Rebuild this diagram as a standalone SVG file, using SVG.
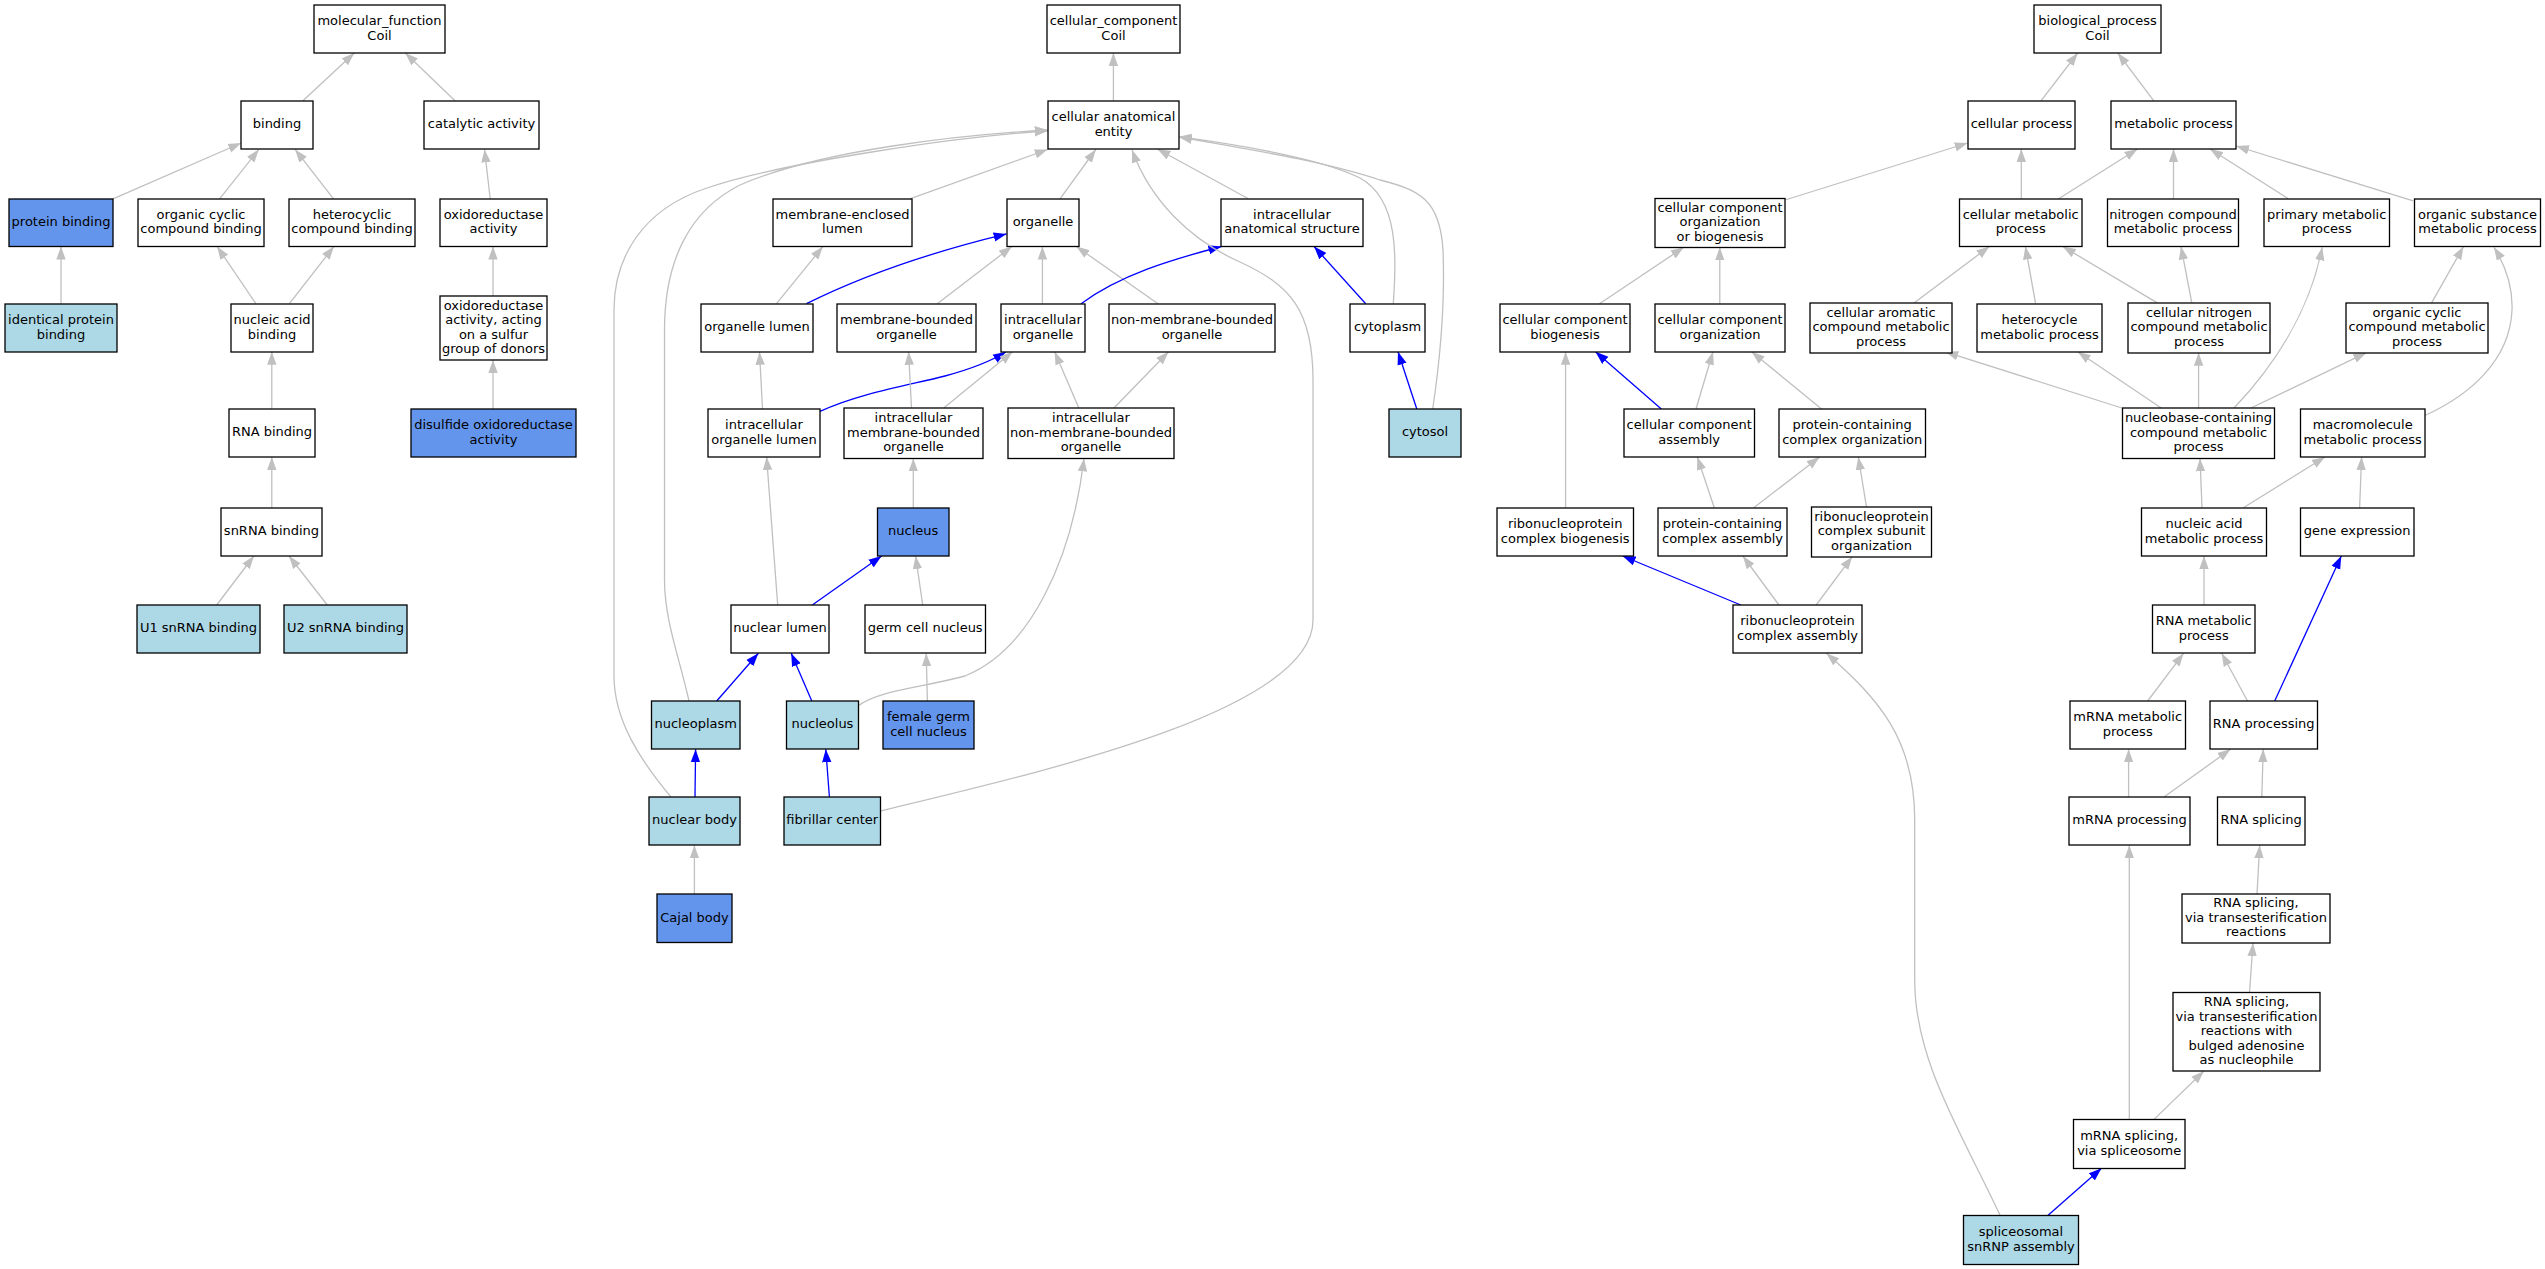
<svg xmlns="http://www.w3.org/2000/svg" width="2545" height="1269" viewBox="0 0 2545 1269">
<style>
.n rect{fill:#fff;stroke:#000;stroke-width:1.3}
.n.cb rect{fill:#6495ED}
.n.lb rect{fill:#ADD8E6}
text{font-family:"DejaVu Sans","Liberation Sans",sans-serif;font-size:13px;text-anchor:middle;fill:#000}
#edges path{fill:none;stroke:#C0C0C0;stroke-width:1.3;marker-end:url(#ag)}
#edges path.b{stroke:#0000FF;marker-end:url(#ab)}
</style>
<defs>
<marker id="ag" viewBox="0 0 13 10" refX="13" refY="5" markerWidth="13" markerHeight="10" markerUnits="userSpaceOnUse" orient="auto"><path d="M0,0.3 L13,5 L0,9.7z" fill="#C0C0C0"/></marker>
<marker id="ab" viewBox="0 0 13 10" refX="13" refY="5" markerWidth="13" markerHeight="10" markerUnits="userSpaceOnUse" orient="auto"><path d="M0,0.3 L13,5 L0,9.7z" fill="#0000FF"/></marker>
</defs>
<rect width="2545" height="1269" fill="#fff"/>
<g id="edges">
<path d="M302.9,100.8 L354.3,53"/>
<path d="M455,100.8 L405.3,53"/>
<path d="M113,198.8 L241.2,143"/>
<path d="M219.6,198.8 L258.8,149.4"/>
<path d="M333.5,198.8 L295.1,149.4"/>
<path d="M490.2,198.8 L484.5,149.4"/>
<path d="M61,303.7 L61,246.5"/>
<path d="M255.9,303.7 L217.1,246.5"/>
<path d="M289.4,303.7 L333.9,246.5"/>
<path d="M493,296 L493,246.5"/>
<path d="M271.8,409.4 L271.8,351.8"/>
<path d="M493,409.4 L493,360"/>
<path d="M271.8,507.8 L271.8,457.1"/>
<path d="M216.7,605 L253.9,556"/>
<path d="M327.3,605 L289,556"/>
<path d="M1113.4,100.8 L1113.4,53"/>
<path d="M909.8,198.8 L1047.7,149.5"/>
<path d="M1060,198.8 L1095.8,149.5"/>
<path d="M1248.4,198.8 L1157.4,149"/>
<path class="b" d="M806.5,303.7 C870,272 940,250 1006.6,233.9"/>
<path d="M776.5,303.7 L822.9,246.5"/>
<path d="M937.3,303.7 L1011.9,246.5"/>
<path d="M1042.4,303.7 L1042.4,246.5"/>
<path d="M1158,303.7 L1076.4,246.5"/>
<path class="b" d="M1081.1,303.7 C1120,275 1170,260 1221.4,246.5"/>
<path class="b" d="M1365.7,303.7 L1314.1,246.5"/>
<path d="M1393.3,303.7 C1396,260 1400,200 1360,178 C1320,158 1240,145 1178.5,136.7"/>
<path d="M1432.7,409 C1440,360 1445,300 1443,250 C1440,200 1420,190 1380,180 C1320,160 1240,148 1179,137"/>
<path class="b" d="M1416.8,409 L1398,351.8"/>
<path d="M762.5,409 L759.5,351.8"/>
<path class="b" d="M820,411.4 C860,393 910,385 945,376 C975,368 993,360 1006,351.8"/>
<path d="M911.5,408 L908.6,351.8"/>
<path d="M943.8,408 L1012.5,351.8"/>
<path d="M1078.8,408 L1054.7,351.8"/>
<path d="M1114,408 L1168.6,351.8"/>
<path d="M913.3,507.8 L913.3,458.4"/>
<path d="M777.7,605 L766.6,457"/>
<path class="b" d="M812.3,605 L881.6,556"/>
<path d="M922.7,605 L915.6,556"/>
<path d="M671,797 C640,760 614,720 614,676 L614,310 C614,260 640,210 707,188 C780,163 960,136 1047.7,131"/>
<path d="M689,701 C680,660 664.5,620 664.5,580 L664.5,330 C664.5,260 690,210 740,185 C820,150 960,135 1047.7,130"/>
<path class="b" d="M716.7,701 L758.4,653.3"/>
<path class="b" d="M811.8,701 L791.2,653.3"/>
<path d="M858.7,705.4 C880,690 920,688 965,676 C1030,650 1072,560 1084,458.4"/>
<path d="M927.4,701 L926.2,653.3"/>
<path class="b" d="M695,797 L695.6,749.3"/>
<path class="b" d="M829.4,797 L825.8,749.3"/>
<path d="M880.4,811 C1050,770 1313,710 1313,620 L1313,380 C1313,310 1290,285 1240,262 C1190,240 1150,200 1132,149.8"/>
<path d="M694.4,894.4 L694.4,845.3"/>
<path d="M2041,100.8 L2077.7,53"/>
<path d="M2153.8,100.8 L2117.8,53"/>
<path d="M1785,200 L1967.7,143"/>
<path d="M2021.3,198.8 L2021.3,149"/>
<path d="M2058.7,198.8 L2137.5,149"/>
<path d="M2173.5,198.8 L2173.5,149"/>
<path d="M2288.3,198.8 L2210.1,149"/>
<path d="M2413.2,200.8 L2236,146"/>
<path d="M1599.5,303.7 L1683.8,247.3"/>
<path d="M1719.8,303.7 L1719.8,247.3"/>
<path d="M1914,302.9 L1989.4,246.5"/>
<path d="M2035.6,303.7 L2025.4,246.5"/>
<path d="M2157.2,302.9 L2062.8,246.5"/>
<path d="M2191.8,302.9 L2181,246.5"/>
<path d="M2431.6,302.9 L2463.5,246.5"/>
<path d="M1565.6,507.8 L1565.6,351.8"/>
<path class="b" d="M1661.3,409 L1595.5,351.8"/>
<path d="M1696,409 L1713,351.8"/>
<path d="M1821.6,409 L1751.7,351.8"/>
<path d="M2121.8,408 L1945.3,351.8"/>
<path d="M2161.2,408 L2077.7,351.8"/>
<path d="M2198.6,408 L2198.6,352.7"/>
<path d="M2234,408 C2275,365 2310,310 2322.2,247.3"/>
<path d="M2250.9,408 L2366.4,352.7"/>
<path d="M2424.8,415.5 C2470,395 2510,360 2512,310 C2513,285 2505,265 2494,247.3"/>
<path d="M2202,507.8 L2200,458.4"/>
<path d="M2243.4,507.8 L2325,457"/>
<path d="M2359.6,507.8 L2361.6,457"/>
<path d="M1714.3,507.8 L1697.3,457"/>
<path d="M1753.7,507.8 L1819.6,457"/>
<path d="M1866.5,507 L1858.3,457"/>
<path class="b" d="M1740.8,605 L1622.6,556"/>
<path d="M1778.9,605 L1742.9,556"/>
<path d="M1816.2,605 L1852.2,556.7"/>
<path d="M2204,605 L2204,556"/>
<path class="b" d="M2274.7,701 L2341.3,556"/>
<path d="M2147.7,701 L2183.6,653.3"/>
<path d="M2247.5,701 L2221.7,653.3"/>
<path d="M2128.6,797 L2128.6,749.3"/>
<path d="M2164,797 L2230.5,749.3"/>
<path d="M2261.8,797 L2263.2,749.3"/>
<path d="M2257,894 L2259.7,845.3"/>
<path d="M2249.5,992.5 L2253,943"/>
<path d="M2129.3,1119.6 L2129.3,845.3"/>
<path d="M2153.8,1119.6 L2204,1071"/>
<path class="b" d="M2047.8,1215.6 L2101.5,1168.3"/>
<path d="M2000.3,1215.6 C1960,1130 1914.7,1060 1914.7,980 L1914.7,820 C1914.7,740 1880,700 1826.4,653.3"/>
</g>
<!-- molecular function -->
<g id="mf_root" class="n"><rect x="314" y="5" width="131" height="48"/><text><tspan x="379.5" y="25">molecular_function</tspan><tspan x="379.5" y="39.5">Coil</tspan></text></g>
<g id="binding" class="n"><rect x="241" y="101" width="72" height="48"/><text x="277" y="128.2">binding</text></g>
<g id="catalytic_activity" class="n"><rect x="424" y="101" width="115" height="48"/><text x="481.5" y="128.2">catalytic activity</text></g>
<g id="protein_binding" class="n cb"><rect x="9" y="199" width="104" height="47.5"/><text x="61" y="226">protein binding</text></g>
<g id="organic_cyclic_compound_binding" class="n"><rect x="138" y="199" width="126" height="47.5"/><text><tspan x="201" y="218.7">organic cyclic</tspan><tspan x="201" y="233.2">compound binding</tspan></text></g>
<g id="heterocyclic_compound_binding" class="n"><rect x="289" y="199" width="126" height="47.5"/><text><tspan x="352" y="218.7">heterocyclic</tspan><tspan x="352" y="233.2">compound binding</tspan></text></g>
<g id="oxidoreductase_activity" class="n"><rect x="440" y="199" width="107" height="47.5"/><text><tspan x="493.5" y="218.7">oxidoreductase</tspan><tspan x="493.5" y="233.2">activity</tspan></text></g>
<g id="identical_protein_binding" class="n lb"><rect x="5" y="304" width="112" height="48"/><text><tspan x="61" y="324">identical protein</tspan><tspan x="61" y="338.5">binding</tspan></text></g>
<g id="nucleic_acid_binding" class="n"><rect x="231" y="304" width="82" height="48"/><text><tspan x="272" y="324">nucleic acid</tspan><tspan x="272" y="338.5">binding</tspan></text></g>
<g id="oxidoreductase_sulfur" class="n"><rect x="440" y="296" width="107" height="64"/><text><tspan x="493.5" y="309.5">oxidoreductase</tspan><tspan x="493.5" y="324">activity, acting</tspan><tspan x="493.5" y="338.5">on a sulfur</tspan><tspan x="493.5" y="353">group of donors</tspan></text></g>
<g id="rna_binding" class="n"><rect x="229" y="409" width="86" height="48"/><text x="272" y="436.2">RNA binding</text></g>
<g id="disulfide_oxidoreductase_activity" class="n cb"><rect x="411" y="409" width="165" height="48"/><text><tspan x="493.5" y="429">disulfide oxidoreductase</tspan><tspan x="493.5" y="443.5">activity</tspan></text></g>
<g id="snrna_binding" class="n"><rect x="221" y="508" width="101" height="48"/><text x="271.5" y="535.2">snRNA binding</text></g>
<g id="u1_snrna_binding" class="n lb"><rect x="137" y="605" width="123" height="48"/><text x="198.5" y="632.2">U1 snRNA binding</text></g>
<g id="u2_snrna_binding" class="n lb"><rect x="284" y="605" width="123" height="48"/><text x="345.5" y="632.2">U2 snRNA binding</text></g>
<!-- cellular component -->
<g id="cc_root" class="n"><rect x="1047" y="5" width="133" height="48"/><text><tspan x="1113.5" y="25">cellular_component</tspan><tspan x="1113.5" y="39.5">Coil</tspan></text></g>
<g id="cellular_anatomical_entity" class="n"><rect x="1048" y="101" width="131" height="48"/><text><tspan x="1113.5" y="121">cellular anatomical</tspan><tspan x="1113.5" y="135.5">entity</tspan></text></g>
<g id="membrane_enclosed_lumen" class="n"><rect x="773" y="199" width="139" height="47.5"/><text><tspan x="842.5" y="218.7">membrane-enclosed</tspan><tspan x="842.5" y="233.2">lumen</tspan></text></g>
<g id="organelle" class="n"><rect x="1007" y="199" width="72" height="47.5"/><text x="1043" y="226">organelle</text></g>
<g id="intracellular_anatomical_structure" class="n"><rect x="1221" y="199" width="142" height="47.5"/><text><tspan x="1292" y="218.7">intracellular</tspan><tspan x="1292" y="233.2">anatomical structure</tspan></text></g>
<g id="organelle_lumen" class="n"><rect x="701" y="304" width="112" height="48"/><text x="757" y="331.2">organelle lumen</text></g>
<g id="membrane_bounded_organelle" class="n"><rect x="837" y="304" width="139" height="48"/><text><tspan x="906.5" y="324">membrane-bounded</tspan><tspan x="906.5" y="338.5">organelle</tspan></text></g>
<g id="intracellular_organelle" class="n"><rect x="1001" y="304" width="84" height="48"/><text><tspan x="1043" y="324">intracellular</tspan><tspan x="1043" y="338.5">organelle</tspan></text></g>
<g id="non_membrane_bounded_organelle" class="n"><rect x="1109" y="304" width="166" height="48"/><text><tspan x="1192" y="324">non-membrane-bounded</tspan><tspan x="1192" y="338.5">organelle</tspan></text></g>
<g id="cytoplasm" class="n"><rect x="1350" y="304" width="75" height="48"/><text x="1387.5" y="331.2">cytoplasm</text></g>
<g id="intracellular_organelle_lumen" class="n"><rect x="708" y="409" width="112" height="48"/><text><tspan x="764" y="429">intracellular</tspan><tspan x="764" y="443.5">organelle lumen</tspan></text></g>
<g id="intracellular_membrane_bounded_organelle" class="n"><rect x="844" y="408" width="139" height="50.5"/><text><tspan x="913.5" y="422">intracellular</tspan><tspan x="913.5" y="436.5">membrane-bounded</tspan><tspan x="913.5" y="451">organelle</tspan></text></g>
<g id="intracellular_non_membrane_bounded_organelle" class="n"><rect x="1008" y="408" width="166" height="50.5"/><text><tspan x="1091" y="422">intracellular</tspan><tspan x="1091" y="436.5">non-membrane-bounded</tspan><tspan x="1091" y="451">organelle</tspan></text></g>
<g id="cytosol" class="n lb"><rect x="1389" y="409" width="72" height="48"/><text x="1425" y="436.2">cytosol</text></g>
<g id="nucleus" class="n cb"><rect x="877.5" y="508" width="71.5" height="48"/><text x="913.2" y="535.2">nucleus</text></g>
<g id="nuclear_lumen" class="n"><rect x="731" y="605" width="98" height="48"/><text x="780" y="632.2">nuclear lumen</text></g>
<g id="germ_cell_nucleus" class="n"><rect x="865" y="605" width="120.5" height="48"/><text x="925.2" y="632.2">germ cell nucleus</text></g>
<g id="nucleoplasm" class="n lb"><rect x="651.5" y="701" width="88.5" height="48"/><text x="695.7" y="728.2">nucleoplasm</text></g>
<g id="nucleolus" class="n lb"><rect x="786.5" y="701" width="72" height="48"/><text x="822.5" y="728.2">nucleolus</text></g>
<g id="female_germ_cell_nucleus" class="n cb"><rect x="883" y="701" width="91" height="48"/><text><tspan x="928.5" y="721">female germ</tspan><tspan x="928.5" y="735.5">cell nucleus</tspan></text></g>
<g id="nuclear_body" class="n lb"><rect x="649" y="797" width="91" height="48"/><text x="694.5" y="824.2">nuclear body</text></g>
<g id="fibrillar_center" class="n lb"><rect x="784" y="797" width="96.5" height="48"/><text x="832.2" y="824.2">fibrillar center</text></g>
<g id="cajal_body" class="n cb"><rect x="657" y="894" width="75" height="48.5"/><text x="694.5" y="921.5">Cajal body</text></g>
<!-- biological process -->
<g id="bp_root" class="n"><rect x="2034" y="5" width="127" height="48"/><text><tspan x="2097.5" y="25">biological_process</tspan><tspan x="2097.5" y="39.5">Coil</tspan></text></g>
<g id="cellular_process" class="n"><rect x="1968" y="101" width="107" height="48"/><text x="2021.5" y="128.2">cellular process</text></g>
<g id="metabolic_process" class="n"><rect x="2111" y="101" width="125" height="48"/><text x="2173.5" y="128.2">metabolic process</text></g>
<g id="cc_org_or_biogenesis" class="n"><rect x="1655" y="198.5" width="130" height="49"/><text><tspan x="1720" y="211.7">cellular component</tspan><tspan x="1720" y="226.2">organization</tspan><tspan x="1720" y="240.7">or biogenesis</tspan></text></g>
<g id="cellular_metabolic_process" class="n"><rect x="1959.5" y="199" width="122.5" height="47.5"/><text><tspan x="2020.7" y="218.7">cellular metabolic</tspan><tspan x="2020.7" y="233.2">process</tspan></text></g>
<g id="nitrogen_compound_metabolic_process" class="n"><rect x="2107.5" y="199" width="131" height="47.5"/><text><tspan x="2173" y="218.7">nitrogen compound</tspan><tspan x="2173" y="233.2">metabolic process</tspan></text></g>
<g id="primary_metabolic_process" class="n"><rect x="2264" y="199" width="125.5" height="47.5"/><text><tspan x="2326.7" y="218.7">primary metabolic</tspan><tspan x="2326.7" y="233.2">process</tspan></text></g>
<g id="organic_substance_metabolic_process" class="n"><rect x="2414.5" y="199" width="126" height="47.5"/><text><tspan x="2477.5" y="218.7">organic substance</tspan><tspan x="2477.5" y="233.2">metabolic process</tspan></text></g>
<g id="cc_biogenesis" class="n"><rect x="1500" y="304" width="130" height="48"/><text><tspan x="1565" y="324">cellular component</tspan><tspan x="1565" y="338.5">biogenesis</tspan></text></g>
<g id="cc_organization" class="n"><rect x="1655" y="304" width="130" height="48"/><text><tspan x="1720" y="324">cellular component</tspan><tspan x="1720" y="338.5">organization</tspan></text></g>
<g id="cellular_aromatic" class="n"><rect x="1810" y="303" width="142" height="50"/><text><tspan x="1881" y="316.7">cellular aromatic</tspan><tspan x="1881" y="331.2">compound metabolic</tspan><tspan x="1881" y="345.7">process</tspan></text></g>
<g id="heterocycle_metabolic_process" class="n"><rect x="1977" y="304" width="125" height="48"/><text><tspan x="2039.5" y="324">heterocycle</tspan><tspan x="2039.5" y="338.5">metabolic process</tspan></text></g>
<g id="cellular_nitrogen_compound" class="n"><rect x="2128" y="303" width="142" height="50"/><text><tspan x="2199" y="316.7">cellular nitrogen</tspan><tspan x="2199" y="331.2">compound metabolic</tspan><tspan x="2199" y="345.7">process</tspan></text></g>
<g id="organic_cyclic_compound_metabolic" class="n"><rect x="2346" y="303" width="142" height="50"/><text><tspan x="2417" y="316.7">organic cyclic</tspan><tspan x="2417" y="331.2">compound metabolic</tspan><tspan x="2417" y="345.7">process</tspan></text></g>
<g id="cc_assembly" class="n"><rect x="1624" y="409" width="130.5" height="48"/><text><tspan x="1689.2" y="429">cellular component</tspan><tspan x="1689.2" y="443.5">assembly</tspan></text></g>
<g id="pcc_organization" class="n"><rect x="1779" y="409" width="146.5" height="48"/><text><tspan x="1852.2" y="429">protein-containing</tspan><tspan x="1852.2" y="443.5">complex organization</tspan></text></g>
<g id="nucleobase_containing" class="n"><rect x="2122.5" y="408" width="152" height="50.5"/><text><tspan x="2198.5" y="422">nucleobase-containing</tspan><tspan x="2198.5" y="436.5">compound metabolic</tspan><tspan x="2198.5" y="451">process</tspan></text></g>
<g id="macromolecule_metabolic_process" class="n"><rect x="2300.5" y="409" width="124.5" height="48"/><text><tspan x="2362.7" y="429">macromolecule</tspan><tspan x="2362.7" y="443.5">metabolic process</tspan></text></g>
<g id="rnp_complex_biogenesis" class="n"><rect x="1497" y="508" width="136.5" height="48"/><text><tspan x="1565.2" y="528">ribonucleoprotein</tspan><tspan x="1565.2" y="542.5">complex biogenesis</tspan></text></g>
<g id="pcc_assembly" class="n"><rect x="1658" y="508" width="129" height="48"/><text><tspan x="1722.5" y="528">protein-containing</tspan><tspan x="1722.5" y="542.5">complex assembly</tspan></text></g>
<g id="rnp_subunit_organization" class="n"><rect x="1811.5" y="507" width="120" height="50"/><text><tspan x="1871.5" y="520.7">ribonucleoprotein</tspan><tspan x="1871.5" y="535.2">complex subunit</tspan><tspan x="1871.5" y="549.7">organization</tspan></text></g>
<g id="nucleic_acid_metabolic_process" class="n"><rect x="2141.5" y="508" width="125" height="48"/><text><tspan x="2204" y="528">nucleic acid</tspan><tspan x="2204" y="542.5">metabolic process</tspan></text></g>
<g id="gene_expression" class="n"><rect x="2300.5" y="508" width="113.5" height="48"/><text x="2357.2" y="535.2">gene expression</text></g>
<g id="rnp_complex_assembly" class="n"><rect x="1733" y="605" width="129" height="48"/><text><tspan x="1797.5" y="625">ribonucleoprotein</tspan><tspan x="1797.5" y="639.5">complex assembly</tspan></text></g>
<g id="rna_metabolic_process" class="n"><rect x="2152.5" y="605" width="102.5" height="48"/><text><tspan x="2203.7" y="625">RNA metabolic</tspan><tspan x="2203.7" y="639.5">process</tspan></text></g>
<g id="mrna_metabolic_process" class="n"><rect x="2070" y="701" width="115.5" height="48"/><text><tspan x="2127.7" y="721">mRNA metabolic</tspan><tspan x="2127.7" y="735.5">process</tspan></text></g>
<g id="rna_processing" class="n"><rect x="2210" y="701" width="107.5" height="48"/><text x="2263.7" y="728.2">RNA processing</text></g>
<g id="mrna_processing" class="n"><rect x="2069" y="797" width="121" height="48"/><text x="2129.5" y="824.2">mRNA processing</text></g>
<g id="rna_splicing" class="n"><rect x="2217.5" y="797" width="87.5" height="48"/><text x="2261.2" y="824.2">RNA splicing</text></g>
<g id="rna_splicing_trans" class="n"><rect x="2182" y="894" width="148" height="49"/><text><tspan x="2256" y="907.2">RNA splicing,</tspan><tspan x="2256" y="921.7">via transesterification</tspan><tspan x="2256" y="936.2">reactions</tspan></text></g>
<g id="rna_splicing_bulged" class="n"><rect x="2173" y="992.5" width="147" height="78.5"/><text><tspan x="2246.5" y="1006">RNA splicing,</tspan><tspan x="2246.5" y="1020.5">via transesterification</tspan><tspan x="2246.5" y="1035">reactions with</tspan><tspan x="2246.5" y="1049.5">bulged adenosine</tspan><tspan x="2246.5" y="1064">as nucleophile</tspan></text></g>
<g id="mrna_splicing_spliceosome" class="n"><rect x="2073.5" y="1119.5" width="111.5" height="49"/><text><tspan x="2129.2" y="1140">mRNA splicing,</tspan><tspan x="2129.2" y="1154.5">via spliceosome</tspan></text></g>
<g id="spliceosomal_snrnp_assembly" class="n lb"><rect x="1963.5" y="1215.5" width="115" height="49"/><text><tspan x="2021" y="1236">spliceosomal</tspan><tspan x="2021" y="1250.5">snRNP assembly</tspan></text></g>
</svg>
